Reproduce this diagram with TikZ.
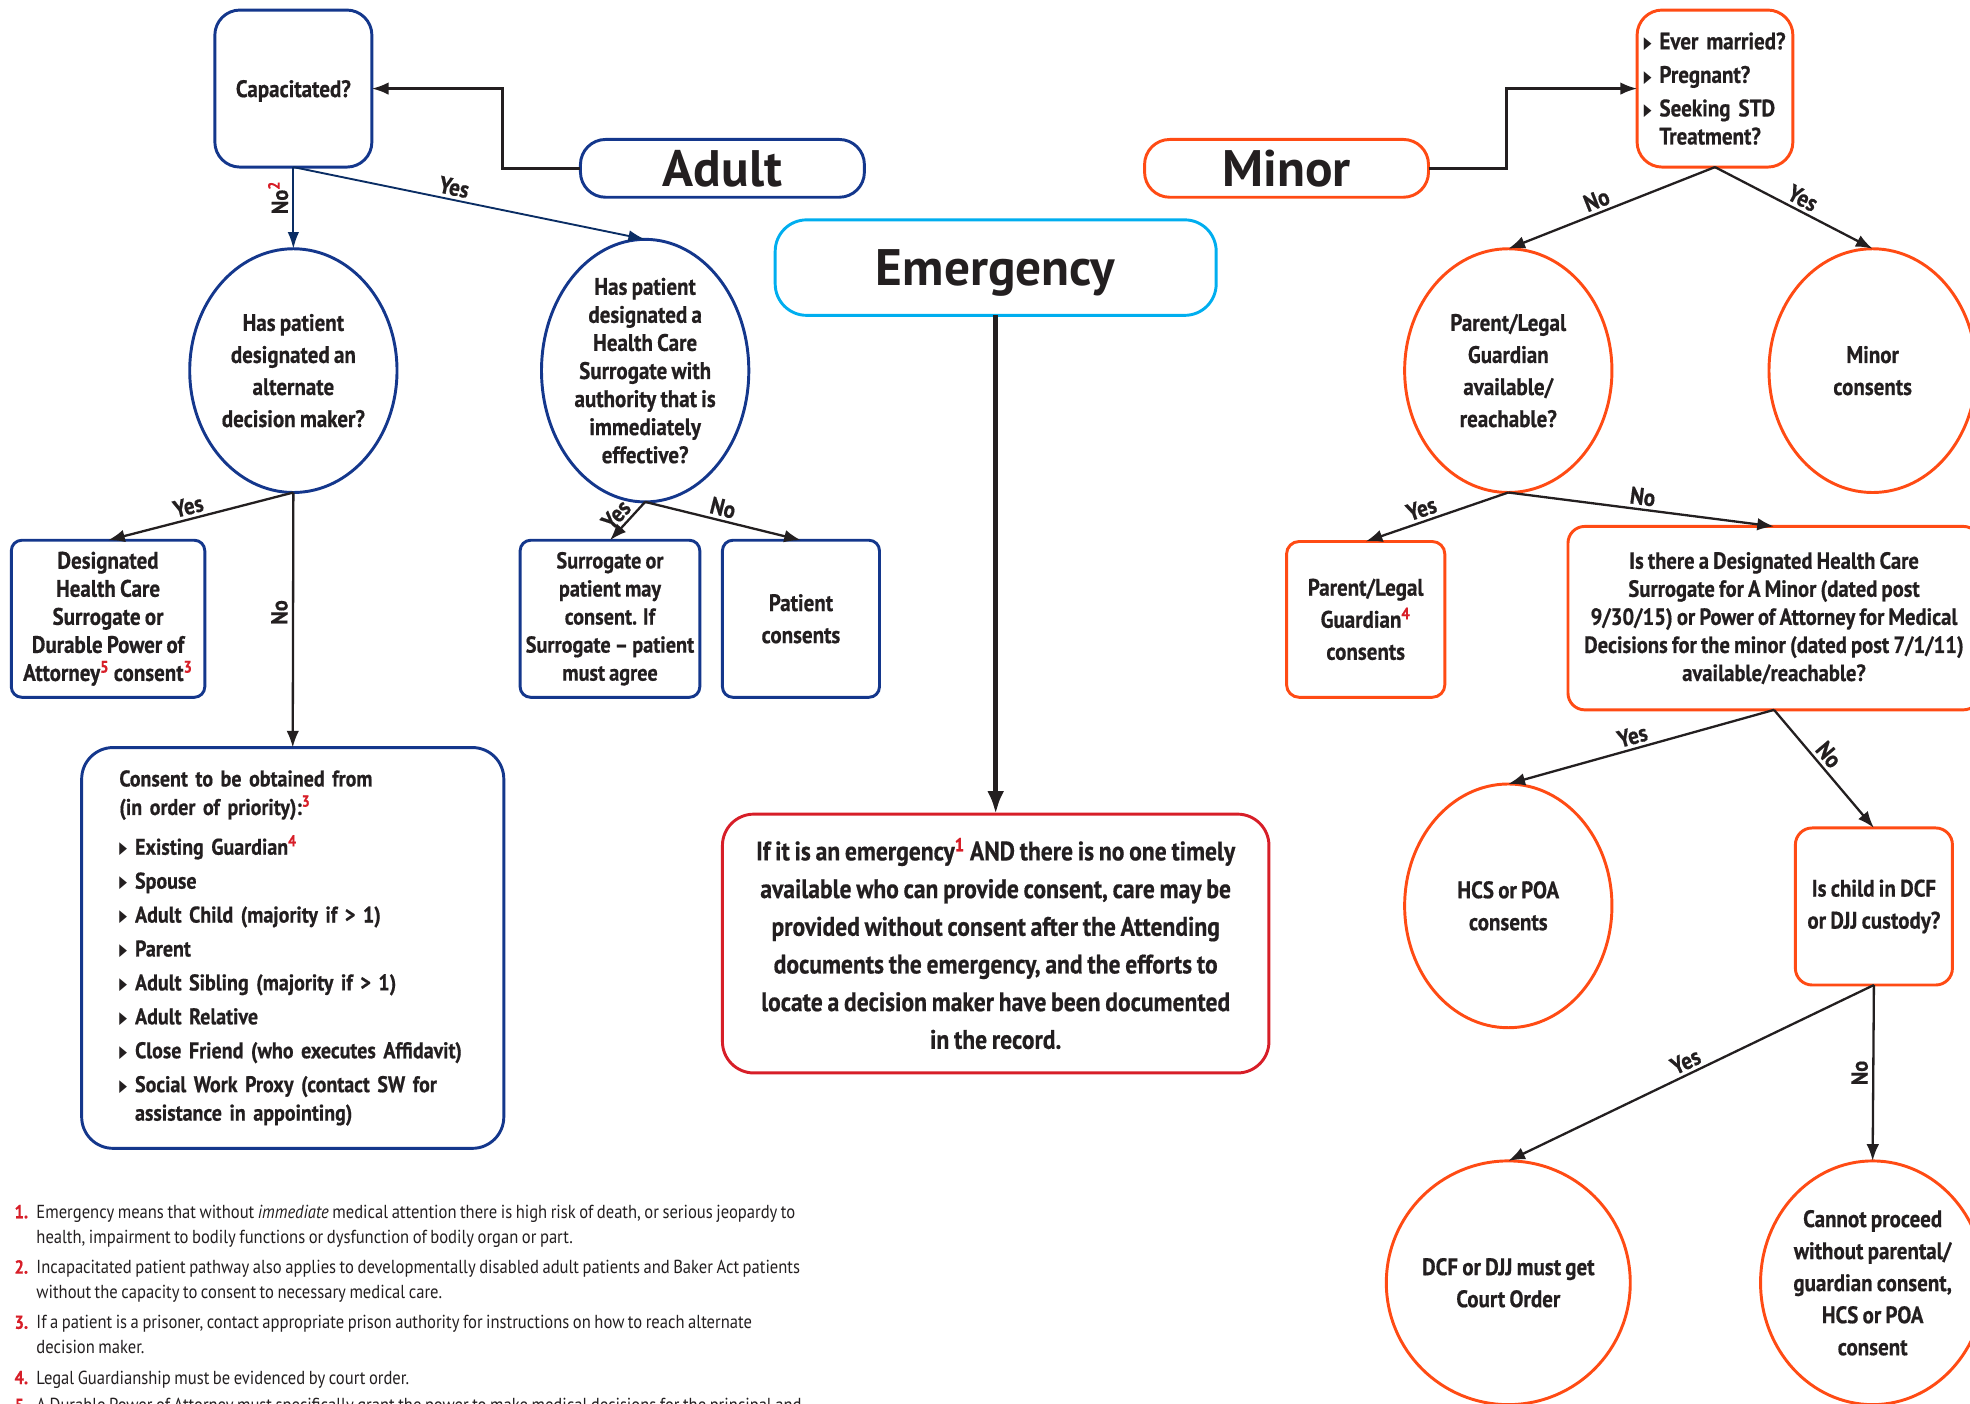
\documentclass[tikz,border=0pt]{standalone}
\usepackage{graphicx}
\usepackage{fontspec}
\setmainfont{PT Sans}[FakeStretch=0.88, WordSpace=0.8, BoldFeatures={FakeBold=0.6}]
\newfontfamily\titlefont{PT Sans}
\newfontfamily\dejavu{DejaVu Sans}
\usetikzlibrary{shapes.geometric,arrows.meta}
\definecolor{navy}{RGB}{20,55,140}
\definecolor{navyline}{RGB}{10,45,100}
\definecolor{ink}{RGB}{35,31,32}
\definecolor{skyblue}{RGB}{0,174,239}
\definecolor{fnred}{RGB}{215,30,40}
\definecolor{orng}{RGB}{255,75,20}
\newcommand{\fsup}[1]{\textsuperscript{\textcolor{fnred}{#1}}}
\newcommand{\tri}{\makebox[7.5pt][l]{\raisebox{0.4pt}{\scalebox{0.6}[1]{\dejavu\fontsize{8}{8}\selectfont ▶}}}}
\newcommand{\fnum}[1]{\llap{\textcolor{fnred}{\bfseries #1}\hspace{4pt}}}
\begin{document}
\begin{tikzpicture}[x=0.6pt,y=-0.6pt,
  base/.style={inner sep=0pt, outer sep=0pt, align=center, text=ink, font=\bfseries\fontsize{11.4}{13.4}\selectfont},
  loose/.style={font=\bfseries\fontsize{11.4}{15.3}\selectfont},
  navybox/.style={base, draw=navy, line width=1.4pt},
  orbox/.style={base, draw=orng, line width=1.4pt},
  ell/.style={ellipse, minimum width=99pt, minimum height=116.4pt},
  titletext/.style={font=\titlefont\bfseries\fontsize{24.5}{24.5}\selectfont},
  lbl/.style={font=\bfseries\fontsize{11.5}{11.5}\selectfont, text=ink, inner sep=1.5pt},
  vlbl/.style={font=\bfseries\fontsize{11}{11}\selectfont, text=ink, inner sep=2pt, rotate=90, anchor=south},
  arr/.style={draw=ink, line width=1.1pt, -{Latex[length=8pt,width=6pt]}},
  narr/.style={draw=navyline, line width=0.9pt, -{Latex[length=8pt,width=5.5pt]}},
  emarr/.style={draw=ink, line width=2.4pt, -{Latex[length=11pt,width=8pt]}},
  fn/.style={inner sep=0pt, outer sep=0pt, align=left, anchor=north west, text=ink, font=\fontsize{9}{12}\selectfont}
]
\useasboundingbox (0,0) rectangle (1568,1117);
\clip (0,0) rectangle (1568,1117);

% ---------- Adult ----------
\node[navybox, rounded corners=12pt, minimum width=75pt, minimum height=75pt, text depth=0pt] (cap) at (233.5,70.5) {Capacitated?};
\node[navybox, titletext, rounded corners=12pt, minimum width=135.6pt, minimum height=27.6pt] (adult) at (575,134) {Adult};
\node[navybox, ell, loose] (e1) at (233.5,295) {Has patient\\designated an\\alternate\\decision maker?};
\node[navybox, ell] (e2) at (513.5,295) {Has patient\\designated a\\Health Care\\Surrogate with\\authority that is\\immediately\\effective?};
\node[navybox, rounded corners=5pt, minimum width=92.4pt, minimum height=75pt] (dhcs) at (86,492.5) {Designated\\Health Care\\Surrogate or\\Durable Power of\\Attorney\fsup{5} consent\fsup{3}};
\node[navybox, rounded corners=5pt, minimum width=85.8pt, minimum height=75pt, font=\bfseries\fontsize{11}{13.4}\selectfont] (surr) at (485.5,492.5) {Surrogate or\\patient may\\consent. If\\Surrogate -- patient\\must agree};
\node[navybox, loose, rounded corners=5pt, minimum width=75pt, minimum height=75pt] (pc) at (637.5,492.5) {Patient\\consents};
\node[navybox, rounded corners=15pt, minimum width=201.6pt, minimum height=191.4pt, text width=165.6pt, align=left, font=\bfseries\fontsize{10.85}{13.6}\selectfont] (consent) at (233,754.5)
 {Consent to be obtained from\\(in order of priority):\fsup{3}\\[5.4pt]
  \tri Existing Guardian\fsup{4}\\[2.6pt]
  \tri Spouse\\[2.6pt]
  \tri Adult Child (majority if > 1)\\[2.6pt]
  \tri Parent\\[2.6pt]
  \tri Adult Sibling (majority if > 1)\\[2.6pt]
  \tri Adult Relative\\[2.6pt]
  \tri Close Friend (who executes Affidavit)\\[2.6pt]
  \tri Social Work Proxy (contact SW for\\
  \hspace*{7.5pt}assistance in appointing)};

% ---------- Emergency ----------
\node[base, titletext, draw=skyblue, line width=1.4pt, rounded corners=15pt, minimum width=210.6pt, minimum height=45.6pt, text depth=0pt] (em) at (792.5,213) {Emergency};
\node[base, draw=fnred, line width=1.4pt, rounded corners=15pt, minimum width=261pt, minimum height=123.6pt, font=\bfseries\fontsize{12.8}{18}\selectfont] (emt) at (792.5,751)
 {If it is an emergency\fsup{1} AND there is no one timely\\available who can provide consent, care may be\\provided without consent after the Attending\\documents the emergency, and the efforts to\\locate a decision maker have been documented\\in the record.};

% ---------- Minor ----------
\node[orbox, titletext, rounded corners=12pt, minimum width=135.6pt, minimum height=27.6pt] (minor) at (1024,134) {Minor};
\node[orbox, rounded corners=12pt, minimum width=74.4pt, minimum height=75pt, text width=68pt, align=left] (q) at (1365,70.5)
 {\tri Ever married?\\[2.6pt]\tri Pregnant?\\[2.6pt]\tri Seeking STD\\\hspace*{7.5pt}Treatment?};
\node[orbox, ell, loose] (pe) at (1200.5,295) {Parent/Legal\\Guardian\\available/\\reachable?};
\node[orbox, ell, loose] (mc) at (1490.5,295) {Minor\\consents};
\node[orbox, loose, rounded corners=6pt, minimum width=75.6pt, minimum height=74.4pt] (pg) at (1087,493) {Parent/Legal\\Guardian\fsup{4}\\consents};
\node[orbox, rounded corners=8pt, minimum width=196.8pt, minimum height=87.6pt, font=\bfseries\fontsize{11.2}{13.4}\selectfont] (ds) at (1412,492) {Is there a Designated Health Care\\Surrogate for A Minor (dated post\\9/30/15) or Power of Attorney for Medical\\Decisions for the minor (dated post 7/1/11)\\available/reachable?};
\node[orbox, ell, loose] (hcs) at (1200.5,721) {HCS or POA\\consents};
\node[orbox, loose, rounded corners=8pt, minimum width=75pt, minimum height=75pt] (dcfb) at (1491.5,721.5) {Is child in DCF\\or DJJ custody?};
\node[orbox, ell, loose] (court) at (1200.5,1021) {DCF or DJJ must get\\Court Order};
\node[orbox, ell, loose] (cannot) at (1490.5,1021) {Cannot proceed\\without parental/\\guardian consent,\\HCS or POA\\consent};

% ---------- connectors ----------
\draw[arr] (adult.west) -- ++(-62,0) |- (cap.east);
\draw[narr] (cap.south) -- node[vlbl, pos=0.37] {No\fsup{2}} (e1.north);
\draw[narr] (cap.south) -- node[lbl, sloped, above, pos=0.45] {Yes} (e2.north);
\draw[arr] (e1.south) -- node[lbl, sloped, above, pos=0.55] {Yes} (dhcs.north);
\draw[arr] (e1.south) -- node[vlbl, pos=0.47] {No} (consent.north);
\draw[arr] (e2.south) -- node[lbl, sloped, above, pos=0.56] {Yes} (surr.north);
\draw[arr] (e2.south) -- node[lbl, sloped, above, pos=0.48] {No} (pc.north);
\draw[emarr] (em.south) -- (emt.north);
\draw[arr] (minor.east) -- ++(62,0) |- (q.west);
\draw[arr] (q.south) -- node[lbl, sloped, above, pos=0.55] {No} (pe.north);
\draw[arr] (q.south) -- node[lbl, sloped, above, pos=0.52] {Yes} (mc.north);
\draw[arr] (pe.south) -- node[lbl, sloped, above, pos=0.58] {Yes} (pg.north);
\draw[arr] (pe.south) -- node[lbl, sloped, above, pos=0.5] {No} (ds.north);
\draw[arr] (ds.south) -- node[lbl, sloped, above, pos=0.52] {Yes} (hcs.north);
\draw[arr] (ds.south) -- node[lbl, sloped, above, pos=0.45] {No} (dcfb.north);
\draw[arr] (dcfb.south) -- node[lbl, sloped, above, pos=0.5] {Yes} (court.north);
\draw[arr] (dcfb.south) -- node[vlbl, pos=0.5] {No} (cannot.north);

% ---------- footnotes ----------
\node[fn] (fn1) at (29,959) {\fnum{1.}Emergency means that without \textit{immediate} medical attention there is high risk of death, or serious jeopardy to\\health, impairment to bodily functions or dysfunction of bodily organ or part.};
\node[fn] (fn2) at (29,1003) {\fnum{2.}Incapacitated patient pathway also applies to developmentally disabled adult patients and Baker Act patients\\without the capacity to consent to necessary medical care.};
\node[fn] (fn3) at (29,1047) {\fnum{3.}If a patient is a prisoner, contact appropriate prison authority for instructions on how to reach alternate\\decision maker.};
\node[fn] (fn4) at (29,1091) {\fnum{4.}Legal Guardianship must be evidenced by court order.};
\node[fn] (fn5) at (29,1113) {\fnum{5.}A Durable Power of Attorney must specifically grant the power to make medical decisions for the principal and};
\end{tikzpicture}
\end{document}
